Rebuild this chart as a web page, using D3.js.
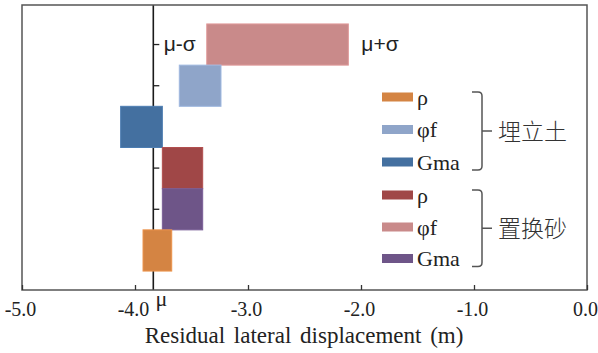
<!DOCTYPE html>
<html>
<head>
<meta charset="utf-8">
<script src="https://cdn.jsdelivr.net/npm/d3@7"></script>
<style>
  html, body { margin: 0; padding: 0; background: #fff; }
  svg { display: block; }
</style>
</head>
<body>
<svg id="chart" width="598" height="353"></svg>
<script>
// Tornado-style floating bars: each row spans the displacement obtained
// with the parameter at mu-sigma and at mu+sigma.
const rowKeys   = ["sand-phi", "fill-phi", "fill-gma", "sand-rho", "sand-gma", "fill-rho"];
const rowLow    = [-3.365, -3.608, -4.127, -3.758, -3.758, -3.929];
const rowHigh   = [-2.112, -3.239, -3.758, -3.401, -3.401, -3.675];
const muValue   = -3.838;

const xTicks      = [-5, -4, -3, -2, -1, 0];
const xTickLabels = ["-5.0", "-4.0", "-3.0", "-2.0", "-1.0", "0.0"];
const xTitle      = "Residual lateral displacement (m)";

// Legend groups: soil layer name and its parameters
const groupNames  = ["埋立土", "置换砂"];
const groupKeys   = [["fill-rho", "fill-phi", "fill-gma"], ["sand-rho", "sand-phi", "sand-gma"]];
const paramLabels = ["ρ", "φf", "Gma"];

const color = d3.scaleOrdinal()
  .domain(["fill-rho", "fill-phi", "fill-gma", "sand-rho", "sand-phi", "sand-gma"])
  .range(["#d48443", "#8fa5c9", "#4470a0", "#a04747", "#c98a8a", "#6e5588"]);

const W = 598, H = 353;
const margin = { top: 5, right: 11, bottom: 63, left: 22 };
const svg = d3.select("#chart");

const x = d3.scaleLinear().domain([-5, 0]).range([margin.left, W - margin.right]);
const y = d3.scaleBand().domain(rowKeys).range([margin.top, H - margin.bottom])
  .paddingInner(0).paddingOuter(0.46);

const serif = "'Liberation Serif', 'Times New Roman', serif";
const sans = "'Liberation Sans', Arial, sans-serif";

// vertical axis drawn at the mean value, category ticks on its right side
const yAxis = d3.axisRight(y).tickSize(6).tickFormat("");
const gy = svg.append("g").attr("transform", `translate(${x(muValue)},0)`).call(yAxis);
gy.select(".domain").remove();
gy.selectAll(".tick line").attr("stroke", "#222").attr("stroke-width", 1.3);
svg.append("line")
  .attr("x1", x(muValue)).attr("x2", x(muValue))
  .attr("y1", margin.top).attr("y2", H - margin.bottom)
  .attr("stroke", "#1a1a1a").attr("stroke-width", 1.6);

// bars
const rows = rowKeys.map((k, i) => ({ key: k, lo: rowLow[i], hi: rowHigh[i] }));
svg.append("g").selectAll("rect").data(rows).join("rect")
  .attr("x", d => x(d.lo))
  .attr("y", d => y(d.key))
  .attr("width", d => x(d.hi) - x(d.lo))
  .attr("height", y.bandwidth())
  .attr("fill", d => color(d.key))
  .attr("stroke", d => d3.color(color(d.key)).brighter(0.3))
  .attr("stroke-width", 1);

// plot frame
svg.append("rect")
  .attr("x", margin.left).attr("y", margin.top)
  .attr("width", W - margin.left - margin.right)
  .attr("height", H - margin.top - margin.bottom)
  .attr("fill", "none").attr("stroke", "#555").attr("stroke-width", 1.5);

// x axis along the bottom edge, ticks pointing inward
const xAxis = d3.axisBottom(x).tickValues(xTicks)
  .tickFormat((d, i) => xTickLabels[i]).tickSizeInner(-5).tickSizeOuter(0).tickPadding(12);
const gx = svg.append("g").attr("transform", `translate(0,${H - margin.bottom})`).call(xAxis);
gx.select(".domain").remove();
gx.selectAll(".tick line").attr("stroke", "#333").attr("stroke-width", 1.3);
gx.selectAll(".tick text")
  .attr("font-family", serif).attr("font-size", 20).attr("fill", "#222")
  .attr("dx", -2);

// axis title and mean marker
svg.append("text")
  .attr("x", 304).attr("y", 343)
  .attr("text-anchor", "middle")
  .attr("font-family", serif).attr("font-size", 23).attr("fill", "#222")
  .attr("word-spacing", 3)
  .text(xTitle);
svg.append("text")
  .attr("x", x(muValue) + 8).attr("y", 306)
  .attr("text-anchor", "middle")
  .attr("font-family", serif).attr("font-size", 22).attr("fill", "#222")
  .text("μ");

// mu-sigma / mu+sigma labels beside the widest bar
const topRow = rows[0];
svg.append("text")
  .attr("x", x(topRow.lo) - 11).attr("y", y(topRow.key) + y.bandwidth() / 2 + 6)
  .attr("text-anchor", "end")
  .attr("font-family", sans).attr("font-size", 21).attr("fill", "#222")
  .text("μ-σ");
svg.append("text")
  .attr("x", x(topRow.hi) + 13).attr("y", y(topRow.key) + y.bandwidth() / 2 + 6)
  .attr("text-anchor", "start")
  .attr("font-family", sans).attr("font-size", 21).attr("fill", "#222")
  .text("μ+σ");

// legend with braces grouping the parameters of each soil layer
const legendY = [97, 129.5, 162, 195, 227, 258.5];
const legend = svg.append("g");
groupKeys.forEach((keys, g) => {
  keys.forEach((k, j) => {
    const cy = legendY[g * 3 + j];
    legend.append("rect")
      .attr("x", 382).attr("y", cy - 4.5).attr("width", 31).attr("height", 9)
      .attr("fill", color(k));
    legend.append("text")
      .attr("x", 417).attr("y", cy + 7.5)
      .attr("font-family", serif).attr("font-size", 22).attr("fill", "#222")
      .text(paramLabels[j]);
  });
  const t = legendY[g * 3] - 5, b = legendY[g * 3 + 2] + 8, m = (t + b) / 2;
  const bx = 482, lx = 472, r = 4;
  legend.append("path")
    .attr("d", `M${lx},${t} L${bx - r},${t} Q${bx},${t} ${bx},${t + r} L${bx},${b - r} Q${bx},${b} ${bx - r},${b} L${lx},${b}
                M${bx},${m} L${bx + 10},${m}`)
    .attr("fill", "none").attr("stroke", "#555").attr("stroke-width", 1.5);
  legend.append("text")
    .attr("x", 498).attr("y", m + 9)
    .attr("font-family", "'Noto Sans CJK SC', sans-serif").attr("font-size", 23)
    .attr("font-weight", 300).attr("fill", "#333")
    .text(groupNames[g]);
});
</script>
</body>
</html>
